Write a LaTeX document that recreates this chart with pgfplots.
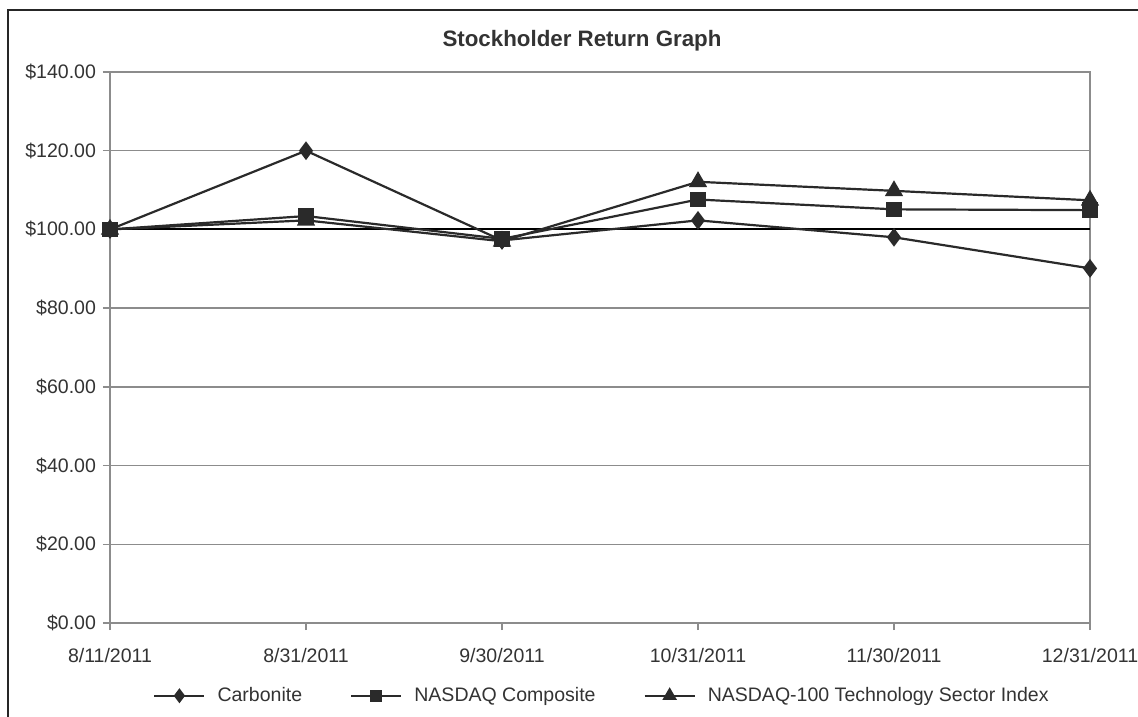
\documentclass[border=0pt]{standalone}
\usepackage{pgfplots}
\pgfplotsset{compat=1.18}
\usepackage{fontspec}
\setmainfont{Liberation Sans}
\definecolor{ser}{HTML}{2A2A2A}
\definecolor{grd}{HTML}{8C8C8C}

\pgfplotstableread{
x carb comp tech
0 100.0 100.0 100.0
1 120.0 103.4 102.3
2 97.2 97.6 97.0
3 102.3 107.6 112.1
4 98.0 105.1 109.8
5 90.1 104.9 107.4
}\datatable

\begin{document}
\begin{tikzpicture}
\useasboundingbox (0,0) rectangle (569bp,358.5bp);
\draw[line width=0.8bp, black!85] (4bp,0) -- (4bp,353.5bp) -- (569bp,353.5bp);
\node[font=\fontsize{11.2}{13}\selectfont\bfseries, text=black!80] at (291bp,338bp) {Stockholder Return Graph};
\begin{axis}[
  at={(55bp,47bp)}, anchor=south west,
  scale only axis, width=490bp, height=275.5bp,
  xmin=0, xmax=5, ymin=0, ymax=140,
  clip=false,
  xtick={0,...,5},
  xticklabels={8/11/2011,8/31/2011,9/30/2011,10/31/2011,11/30/2011,12/31/2011},
  ytick={0,20,...,140},
  /pgf/number format/assume math mode=true,
  yticklabel={\$\pgfmathprintnumber[fixed,fixed zerofill,precision=2]{\tick}},
  ymajorgrids,
  major grid style={grd, line width=0.7bp},
  axis line style={grd, line width=0.8bp},
  tick align=outside,
  major tick length=3.5bp,
  tick style={grd, line width=0.7bp},
  xtick pos=bottom, ytick pos=left,
  ticklabel style={font=\fontsize{9.8}{11}\selectfont, text=black!80},
  xticklabel style={yshift=-5.5bp},
  yticklabel style={xshift=0bp},
  legend style={at={(0.503,-0.132)}, anchor=center, draw=none, fill=none,
     font=\fontsize{9.8}{11}\selectfont, text=black!80,
     /tikz/every odd column/.append style={column sep=4bp},
     /tikz/every even column/.append style={column sep=22bp}},
  legend columns=3,
  legend cell align=left,
  legend image code/.code={%
    \draw[mark repeat=2,mark phase=2,#1,every mark/.append style={scale=0.75}] plot coordinates {(0bp,0bp)(12.5bp,0bp)(25bp,0bp)};},
]
\addplot[black, line width=1bp, forget plot] coordinates {(0,100) (5,100)};
\addplot[ser, line width=1.1bp, mark=diamond*, mark size=3.8bp, mark options={fill=ser, draw=ser}] table[x=x, y=carb] {\datatable};
\addplot[ser, line width=1.1bp, mark=square*, mark size=3.3bp, mark options={fill=ser, draw=ser}] table[x=x, y=comp] {\datatable};
\addplot[ser, line width=1.1bp, mark=triangle*, mark size=4.2bp, mark options={fill=ser, draw=ser}] table[x=x, y=tech] {\datatable};
\legend{Carbonite, NASDAQ Composite, NASDAQ-100 Technology Sector Index}
\end{axis}
\end{tikzpicture}
\end{document}
